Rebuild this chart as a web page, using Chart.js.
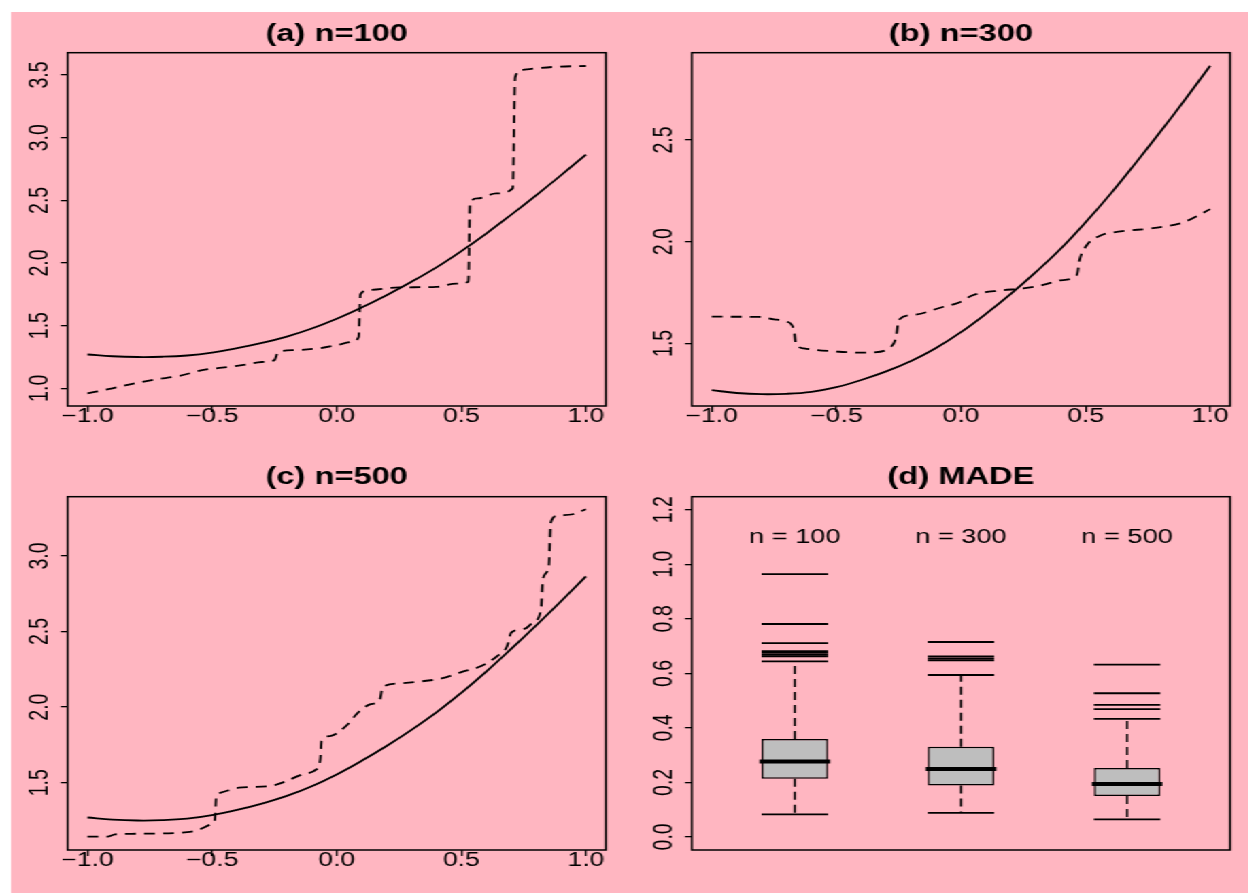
<!DOCTYPE html>
<html>
<head>
<meta charset="utf-8">
<title>MADE simulation</title>
<script src="https://cdn.jsdelivr.net/npm/chart.js@4.4.0/dist/chart.umd.min.js"></script>
<style>
  html, body { margin: 0; padding: 0; background: #ffffff; overflow: hidden; }
  #figure { position: absolute; left: 0; top: 0; height: 893px; transform-origin: 0 0; }
  #figure canvas { position: absolute; }
  #paper { position: absolute; top: 12px; right: 0; bottom: 0; background: #FFB6C1; }
</style>
</head>
<body>
<div id="figure">
  <div id="paper"></div>
  <canvas id="panelA" width="459" height="452" style="left:0px; top:0px"></canvas>
  <canvas id="panelB" width="459" height="452" style="left:459px; top:0px"></canvas>
  <canvas id="panelC" width="459" height="441" style="left:0px; top:452px"></canvas>
  <canvas id="panelD" width="459" height="441" style="left:459px; top:452px"></canvas>
</div>
<script>
// the reference is stretched sideways, so draw narrow and widen with css
const STRETCH = 1.36;

// true regression curve (solid line), read at steps of 0.1
const curveX = [-1.0, -0.9, -0.8, -0.7, -0.6, -0.5, -0.4, -0.3, -0.2, -0.1, 0.0,
                0.1, 0.2, 0.3, 0.4, 0.5, 0.6, 0.7, 0.8, 0.9, 1.0];
const trueCurve = [1.27, 1.256, 1.25, 1.252, 1.262, 1.285, 1.32, 1.362, 1.413, 1.477, 1.555,
                   1.645, 1.743, 1.85, 1.965, 2.095, 2.235, 2.385, 2.54, 2.70, 2.865];

// estimates (dashed line) for each sample size
const est100X = [-1.0, -0.9, -0.81, -0.73, -0.63, -0.54, -0.46, -0.38, -0.3, -0.25, -0.235, -0.17,
                 -0.07, 0.0, 0.06, 0.088, 0.095, 0.13, 0.25, 0.4, 0.48, 0.528, 0.535, 0.565,
                 0.64, 0.706, 0.716, 0.74, 0.8, 0.88, 1.0];
const est100Y = [0.96, 1.0, 1.04, 1.07, 1.1, 1.145, 1.165, 1.185, 1.21, 1.225, 1.29, 1.305,
                 1.32, 1.345, 1.37, 1.41, 1.75, 1.785, 1.805, 1.81, 1.835, 1.85, 2.48, 2.515,
                 2.555, 2.595, 3.48, 3.54, 3.553, 3.566, 3.572];

const est300X = [-1.0, -0.81, -0.75, -0.7, -0.67, -0.663, -0.63, -0.5, -0.39, -0.36, -0.28, -0.26,
                 -0.25, -0.19, -0.07, -0.01, 0.05, 0.16, 0.25, 0.33, 0.4, 0.465, 0.476, 0.5,
                 0.56, 0.64, 0.77, 0.88, 0.93, 1.0];
const est300Y = [1.631, 1.63, 1.618, 1.607, 1.566, 1.5, 1.475, 1.46, 1.454, 1.455, 1.484, 1.533,
                 1.615, 1.64, 1.68, 1.7, 1.738, 1.76, 1.77, 1.787, 1.81, 1.836, 1.91, 1.975,
                 2.03, 2.05, 2.066, 2.09, 2.115, 2.16];

const est500X = [-1.0, -0.92, -0.89, -0.824, -0.6, -0.553, -0.505, -0.489, -0.484, -0.465, -0.393,
                 -0.266, -0.202, -0.138, -0.082, -0.066, -0.061, -0.026, 0.037, 0.085, 0.133,
                 0.173, 0.184, 0.245, 0.325, 0.421, 0.5, 0.58, 0.644, 0.684, 0.7, 0.755, 0.787,
                 0.82, 0.827, 0.851, 0.859, 0.883, 0.947, 1.0];
const est500Y = [1.143, 1.143, 1.158, 1.162, 1.173, 1.19, 1.224, 1.257, 1.4, 1.434, 1.467,
                 1.478, 1.511, 1.555, 1.588, 1.654, 1.776, 1.809, 1.875, 1.963, 2.018,
                 2.05, 2.13, 2.157, 2.168, 2.19, 2.232, 2.272, 2.338, 2.404, 2.493, 2.519, 2.559,
                 2.647, 2.846, 2.934, 3.22, 3.265, 3.276, 3.309];

// axis ticks
const lineTicksX = [-1.0, -0.5, 0.0, 0.5, 1.0];
const ticksY100 = [1.0, 1.5, 2.0, 2.5, 3.0, 3.5];
const ticksY300 = [1.5, 2.0, 2.5];
const ticksY500 = [1.5, 2.0, 2.5, 3.0];
const ticksYMade = [0.0, 0.2, 0.4, 0.6, 0.8, 1.0, 1.2];

// MADE boxplots
const madeGroups = ['n = 100', 'n = 300', 'n = 500'];
const madeLower = [0.083, 0.088, 0.064];
const madeQ1 = [0.213, 0.189, 0.150];
const madeMedian = [0.277, 0.249, 0.194];
const madeQ3 = [0.359, 0.331, 0.253];
const madeUpper = [0.644, 0.594, 0.433];
const madeOutliers = [
    [0.662, 0.668, 0.675, 0.681, 0.711, 0.781, 0.964],
    [0.648, 0.655, 0.662, 0.715],
    [0.469, 0.484, 0.527, 0.632]
];
const madeLabelY = 1.1;

const FONT = '"Liberation Sans", Arial, Helvetica, sans-serif';

document.getElementById('figure').style.width = (1248 / STRETCH) + 'px';
document.getElementById('figure').style.transform = 'scaleX(' + STRETCH + ')';
document.getElementById('paper').style.left = (11 / STRETCH) + 'px';

Chart.defaults.font.family = FONT;
Chart.defaults.color = '#000';

function fmt(v) {
    return Number(v).toFixed(1).replace('-', '\u2212');
}

const tickFont = { family: FONT, size: 19.5 };

// box round the plot region
const framePlugin = {
    id: 'frame',
    afterDraw(chart) {
        const a = chart.chartArea;
        const ctx = chart.ctx;
        ctx.save();
        ctx.strokeStyle = '#000';
        ctx.lineWidth = 1.5;
        ctx.strokeRect(a.left, a.top, a.right - a.left, a.bottom - a.top);
        ctx.restore();
    }
};

function yAxis(min, max, ticks) {
    return {
        type: 'linear',
        min: min,
        max: max,
        afterBuildTicks: s => { s.ticks = ticks.map(v => ({ value: v })); },
        afterFit: s => { s.width = 32; },
        grid: { drawOnChartArea: false, drawTicks: true, tickLength: 5, color: '#000', lineWidth: 1.3 },
        border: { display: false },
        ticks: {
            color: '#000', font: tickFont, autoSkip: false,
            minRotation: 90, maxRotation: 90, crossAlign: 'center', padding: 1.2,
            callback: v => fmt(v)
        }
    };
}

function xAxis() {
    return {
        type: 'linear',
        min: -1.08,
        max: 1.08,
        afterBuildTicks: s => { s.ticks = lineTicksX.map(v => ({ value: v })); },
        afterFit: s => { s.height = 30; },
        grid: { drawOnChartArea: false, drawTicks: true, tickLength: 6, color: '#000', lineWidth: 1.3 },
        border: { display: false },
        ticks: {
            color: '#000', font: tickFont, autoSkip: false,
            minRotation: 0, maxRotation: 0, padding: -6.7,
            callback: v => fmt(v)
        }
    };
}

function titleOpts(text, top, bottom) {
    return {
        display: true,
        text: text,
        color: '#000',
        fullSize: false,
        font: { family: FONT, size: 24, weight: 'bold' },
        padding: { top: top, bottom: bottom }
    };
}

const upperRow = { titleTop: 19.6, titleBottom: 4.3, bottom: 16 };
const lowerRow = { titleTop: 11.3, titleBottom: 4.6, bottom: 13 };

function linePanel(id, title, estX, estY, yMin, yMax, yTicks, row) {
    new Chart(document.getElementById(id), {
        type: 'line',
        data: {
            datasets: [
                {
                    data: curveX.map((x, i) => ({ x: x, y: trueCurve[i] })),
                    borderColor: '#000',
                    borderWidth: 1.8,
                    pointRadius: 0,
                    tension: 0.4
                },
                {
                    data: estX.map((x, i) => ({ x: x, y: estY[i] })),
                    borderColor: '#000',
                    borderWidth: 1.8,
                    borderDash: [8, 6],
                    pointRadius: 0,
                    cubicInterpolationMode: 'monotone'
                }
            ]
        },
        options: {
            responsive: false,
            animation: false,
            events: [],
            layout: { padding: { left: 17.7, right: 13.5, top: 0, bottom: row.bottom } },
            plugins: {
                legend: { display: false },
                tooltip: { enabled: false },
                title: titleOpts(title, row.titleTop, row.titleBottom)
            },
            scales: {
                x: xAxis(),
                y: yAxis(yMin, yMax, yTicks)
            }
        },
        plugins: [framePlugin]
    });
}

linePanel('panelA', '(a) n=100', est100X, est100Y, 0.859, 3.678, ticksY100, upperRow);
linePanel('panelB', '(b) n=300', est300X, est300Y, 1.192, 2.929, ticksY300, upperRow);
linePanel('panelC', '(c) n=500', est500X, est500Y, 1.055, 3.392, ticksY500, lowerRow);

// ---- (d) boxplots ----
const groupPos = madeGroups.map((_, i) => i + 1);
const boxWidth = 0.4;

function halfBox(ctx) {
    const s = ctx.chart.scales.x;
    return Math.abs(s.getPixelForValue(1 + boxWidth / 2) - s.getPixelForValue(1));
}

const groupLabelPlugin = {
    id: 'groupLabels',
    afterDatasetsDraw(chart) {
        const ctx = chart.ctx;
        const x = chart.scales.x;
        const y = chart.scales.y;
        ctx.save();
        ctx.fillStyle = '#000';
        ctx.font = '20px ' + FONT;
        ctx.textAlign = 'center';
        ctx.textBaseline = 'middle';
        madeGroups.forEach((label, i) => {
            ctx.fillText(label, x.getPixelForValue(groupPos[i]), y.getPixelForValue(madeLabelY));
        });
        ctx.restore();
    }
};

new Chart(document.getElementById('panelD'), {
    type: 'bar',
    data: {
        datasets: [
            {
                // medians
                type: 'scatter',
                data: groupPos.map((p, i) => ({ x: p, y: madeMedian[i] })),
                pointStyle: 'line',
                pointRadius: ctx => halfBox(ctx) + 1.5,
                pointBorderWidth: 4,
                pointBorderColor: '#000',
                showLine: false
            },
            {
                // outliers
                type: 'scatter',
                data: madeOutliers.flatMap((vals, i) => vals.map(v => ({ x: groupPos[i], y: v }))),
                pointStyle: 'line',
                pointRadius: ctx => halfBox(ctx),
                pointBorderWidth: 1.8,
                pointBorderColor: '#000',
                showLine: false
            },
            {
                // whisker ends
                type: 'scatter',
                data: groupPos.flatMap((p, i) => [{ x: p, y: madeLower[i] }, { x: p, y: madeUpper[i] }]),
                pointStyle: 'line',
                pointRadius: ctx => halfBox(ctx),
                pointBorderWidth: 1.8,
                pointBorderColor: '#000',
                showLine: false
            },
            {
                // boxes
                type: 'bar',
                data: groupPos.map((p, i) => ({ x: p, y: [madeQ1[i], madeQ3[i]] })),
                backgroundColor: '#BEBEBE',
                borderColor: '#000',
                borderWidth: 1.5,
                borderSkipped: false,
                barPercentage: boxWidth,
                categoryPercentage: 1.0
            },
            {
                // dashed whiskers
                type: 'line',
                data: groupPos.flatMap((p, i) => [
                    { x: p, y: madeQ3[i] }, { x: p, y: madeUpper[i] }, { x: p, y: null },
                    { x: p, y: madeQ1[i] }, { x: p, y: madeLower[i] }, { x: p, y: null }
                ]),
                borderColor: '#000',
                borderWidth: 1.5,
                borderDash: [8, 5],
                pointRadius: 0,
                spanGaps: false
            }
        ]
    },
    options: {
        responsive: false,
        animation: false,
        events: [],
        layout: { padding: { left: 17.7, right: 13.5, top: 0, bottom: 43 } },
        plugins: {
            legend: { display: false },
            tooltip: { enabled: false },
            title: titleOpts('(d) MADE', lowerRow.titleTop, lowerRow.titleBottom)
        },
        scales: {
            x: {
                type: 'linear',
                min: 0.38,
                max: 3.62,
                offset: false,
                display: false,
                afterBuildTicks: s => { s.ticks = groupPos.map(v => ({ value: v })); }
            },
            y: yAxis(-0.048, 1.248, ticksYMade)
        }
    },
    plugins: [framePlugin, groupLabelPlugin]
});
</script>
</body>
</html>
